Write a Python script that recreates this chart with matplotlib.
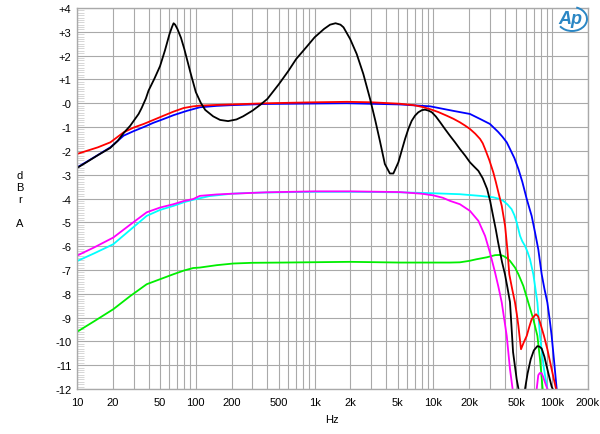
import matplotlib
matplotlib.use("Agg")
import matplotlib.pyplot as plt
from matplotlib.ticker import FixedLocator, MultipleLocator, NullFormatter
from matplotlib.patches import Arc

# Frequency response curves (Hz, dBr A)
black_f = [10, 12, 15, 17, 19, 22, 25, 28, 30, 33, 35, 38, 40, 45, 50, 55, 60, 63, 65,
           67, 70, 75, 80, 90, 100, 110, 120, 140, 160, 187, 220, 250, 300, 350, 400,
           500, 600, 700, 850, 1000, 1200, 1350, 1500, 1650, 1750, 1990, 2260, 2570,
           2930, 3250, 3550, 3900, 4300, 4600, 5070, 5400, 5770, 6150, 6560, 7000, 7460,
           8000, 8500, 9100, 9700, 10500, 11400, 12500, 13800, 15200, 16700, 18500,
           20300, 22000, 23900, 26000, 28300, 30000, 31800, 33500, 35000, 37800, 40000,
           42000, 44100, 46800, 50200, 52000]
black_v = [-2.72, -2.48, -2.18, -2.02, -1.88, -1.58, -1.22, -0.95, -0.74, -0.45, -0.2,
           0.2, 0.53, 1.05, 1.56, 2.22, 2.9, 3.2, 3.36, 3.3, 3.12, 2.75, 2.28, 1.3, 0.47,
           0.02, -0.28, -0.55, -0.7, -0.75, -0.68, -0.55, -0.31, -0.06, 0.18, 0.8, 1.35,
           1.86, 2.35, 2.77, 3.12, 3.3, 3.36, 3.3, 3.19, 2.7, 2.07, 1.23, 0.18, -0.75,
           -1.6, -2.55, -2.95, -2.95, -2.48, -2.0, -1.5, -1.08, -0.74, -0.52, -0.38,
           -0.29, -0.27, -0.31, -0.38, -0.56, -0.8, -1.08, -1.37, -1.64, -1.92, -2.2,
           -2.48, -2.66, -2.84, -3.15, -3.6, -4.1, -4.74, -5.3, -5.83, -6.67, -7.18,
           -7.75, -8.35, -10.45, -11.59, -12.0]
black_hf_f = [59000, 62000, 65900, 70000, 75000, 78000, 81500, 86000, 91000, 95000,
              98900, 101000]
black_hf_v = [-12.0, -11.35, -10.75, -10.38, -10.2, -10.22, -10.3, -10.65, -11.17,
              -11.55, -11.9, -12.0]

red_f = [10, 15, 19.1, 24.7, 30, 36.4, 44, 53.7, 65, 79, 95, 108, 150, 200, 394, 1000,
         1870, 3000, 5200, 6800, 8000, 9400, 11000, 12900, 14700, 16700, 18500, 20300,
         22500, 24700, 26000, 27200, 29500, 31900, 33500, 35200, 37600, 40100, 41900,
         43500, 46000, 48600, 50300, 51900, 54600, 57500, 61000, 64000, 67100, 70000,
         73000, 76000, 78900, 85000, 91000, 98900, 107600]
red_v = [-2.13, -1.85, -1.64, -1.22, -1.02, -0.87, -0.7, -0.52, -0.35, -0.2, -0.13,
         -0.1, -0.07, -0.05, 0.0, 0.04, 0.06, 0.04, -0.02, -0.08, -0.15, -0.25, -0.37,
         -0.52, -0.65, -0.8, -0.94, -1.08, -1.28, -1.5, -1.68, -1.92, -2.38, -2.9, -3.3,
         -3.74, -4.31, -5.15, -6.13, -7.18, -7.8, -8.37, -8.85, -9.35, -10.33, -10.05,
         -9.77, -9.4, -9.07, -8.95, -8.86, -8.95, -9.2, -9.75, -10.33, -11.17, -12.0]

blue_f = [10, 14.7, 19.1, 24.7, 30, 36.4, 44, 53.7, 65, 84, 108, 150, 200, 394, 1870,
          5200, 9400, 14700, 20300, 24700, 29900, 35000, 38000, 41400, 44100, 48000,
          51900, 56000, 61000, 64000, 67100, 71600, 76300, 81500, 86000, 91000, 95000,
          98900, 104000, 109000]
blue_v = [-2.7, -2.2, -1.85, -1.36, -1.17, -1.0, -0.82, -0.66, -0.5, -0.32, -0.17,
          -0.11, -0.08, -0.03, 0.0, -0.05, -0.13, -0.32, -0.45, -0.66, -0.87, -1.2,
          -1.4, -1.64, -1.92, -2.3, -2.76, -3.3, -4.02, -4.38, -4.73, -5.42, -6.13, -7.18,
          -7.8, -8.37, -9.05, -9.77, -10.9, -12.0]

cyan_f = [10, 14, 20.2, 28, 38.6, 50, 64.8, 80, 95.4, 130, 200, 300, 500, 1000, 2000,
          5200, 10000, 16700, 24700, 31900, 36000, 38700, 42000, 45500, 48000, 50200,
          53600, 56000, 59000, 62000, 65000, 69300, 72000, 75000, 78900, 82000, 85300,
          91000]
cyan_v = [-6.63, -6.3, -5.92, -5.32, -4.73, -4.48, -4.31, -4.15, -4.05, -3.9, -3.8,
          -3.76, -3.74, -3.72, -3.72, -3.74, -3.78, -3.82, -3.89, -3.95, -4.02, -4.1,
          -4.25, -4.45, -4.7, -5.0, -5.57, -5.8, -5.99, -6.25, -6.55, -7.18, -7.75, -8.37,
          -9.77, -10.5, -11.17, -12.0]

magenta_f = [10, 14, 20.2, 28, 38.6, 50, 64.8, 80, 95.4, 108, 150, 200, 394, 1000, 2000,
             5200, 8000, 10000, 12000, 13800, 16700, 20300, 23900, 27200, 29900, 33000,
             35200, 37600, 41400, 44100, 46400]
magenta_v = [-6.4, -6.05, -5.64, -5.1, -4.58, -4.38, -4.24, -4.1, -4.02, -3.89, -3.83,
             -3.8, -3.74, -3.7, -3.7, -3.73, -3.8, -3.87, -3.97, -4.1, -4.24, -4.52,
             -4.94, -5.57, -6.27, -7.1, -7.7, -8.37, -9.77, -11.17, -12.0]
magenta_hf_f = [74000, 76300, 78500, 81500, 84000, 87000, 91000]
magenta_hf_v = [-12.0, -11.42, -11.33, -11.34, -11.5, -11.73, -12.0]

green_f = [10, 14, 20.2, 28, 38.6, 50, 64.8, 80, 95, 108, 150, 207, 300, 545, 1990, 5200,
           13800, 16700, 20000, 23100, 28100, 33000, 36000, 38700, 41500, 44100, 48600,
           51900, 57100, 62900, 69300, 75000, 78900, 83100]
green_v = [-9.6, -9.15, -8.65, -8.1, -7.6, -7.39, -7.18, -7.02, -6.92, -6.9, -6.8, -6.73,
           -6.7, -6.69, -6.66, -6.69, -6.69, -6.68, -6.62, -6.55, -6.47, -6.38, -6.37,
           -6.41, -6.5, -6.62, -6.9, -7.18, -7.67, -8.37, -9.07, -9.77, -10.75, -12.0]

x_label_ticks = [10, 20, 50, 100, 200, 500, 1000, 2000, 5000, 10000, 20000, 50000,
                 100000, 200000]
x_label_text = ["10", "20", "50", "100", "200", "500", "1k", "2k", "5k", "10k", "20k",
                "50k", "100k", "200k"]
y_ticks = list(range(-12, 5))
y_labels = ["+%d" % v if v > 0 else "-%d" % abs(v) for v in y_ticks]

plt.rcParams["font.family"] = ["Liberation Sans", "DejaVu Sans"]

fig = plt.figure(figsize=(6, 4.35), dpi=100)
ax = fig.add_axes([77 / 600, 1 - 390 / 435, 511 / 600, 381 / 435])

grid_c = "#a9a9a9"
ax.set_xscale("log")
ax.set_xlim(10, 200000)
ax.set_ylim(-12, 4)

# grid at every 1..9 multiple
grid_x = [m * 10 ** d for d in range(1, 6) for m in range(1, 10) if m * 10 ** d <= 200000]
ax.xaxis.set_major_locator(FixedLocator(grid_x))
ax.set_xticklabels([x_label_text[x_label_ticks.index(g)] if g in x_label_ticks else ""
                    for g in grid_x])
ax.xaxis.set_minor_formatter(NullFormatter())
ax.xaxis.set_minor_locator(FixedLocator([]))
ax.set_yticks(y_ticks)
ax.set_yticklabels(y_labels)
ax.yaxis.set_minor_locator(MultipleLocator(0.1))
ax.grid(True, which="major", color=grid_c, lw=0.8)
ax.tick_params(axis="both", which="major", length=0, labelsize=8, pad=4)
ax.tick_params(axis="x", pad=6)
ax.tick_params(axis="y", which="minor", direction="in", length=5, width=0.4,
               color="#b8b8b8")
for s in ax.spines.values():
    s.set_color(grid_c)
    s.set_linewidth(1.0)

lw = 1.3
ax.plot(green_f, green_v, color="#00ee00", lw=lw)
ax.plot(cyan_f, cyan_v, color="#00ffff", lw=lw)
ax.plot(magenta_f, magenta_v, color="#ff00ff", lw=lw)
ax.plot(magenta_hf_f, magenta_hf_v, color="#ff00ff", lw=lw)
ax.plot(blue_f, blue_v, color="#0000ff", lw=lw)
ax.plot(red_f, red_v, color="#ff0000", lw=lw)
ax.plot(black_f, black_v, color="#000000", lw=lw)
ax.plot(black_hf_f, black_hf_v, color="#000000", lw=lw)

fig.text(20 / 600, 1 - 200 / 435, "d\nB\nr\n\nA", ha="center", va="center",
         fontsize=8, linespacing=1.25)
fig.text(332 / 600, 1 - 420 / 435, "Hz", ha="center", va="center", fontsize=8)

# Audio Precision logo
logo_c = "#2a86c4"
fig.text(570 / 600, 1 - 20 / 435, "Ap", ha="center", va="center", fontsize=13,
         style="italic", weight="bold", color=logo_c)
fig.patches.append(Arc((572 / 600, 1 - 20 / 435), 30 / 600, 24 / 435, theta1=-140,
                       theta2=75, color=logo_c, lw=1.4, transform=fig.transFigure))

fig.savefig("out.png", dpi=100)
